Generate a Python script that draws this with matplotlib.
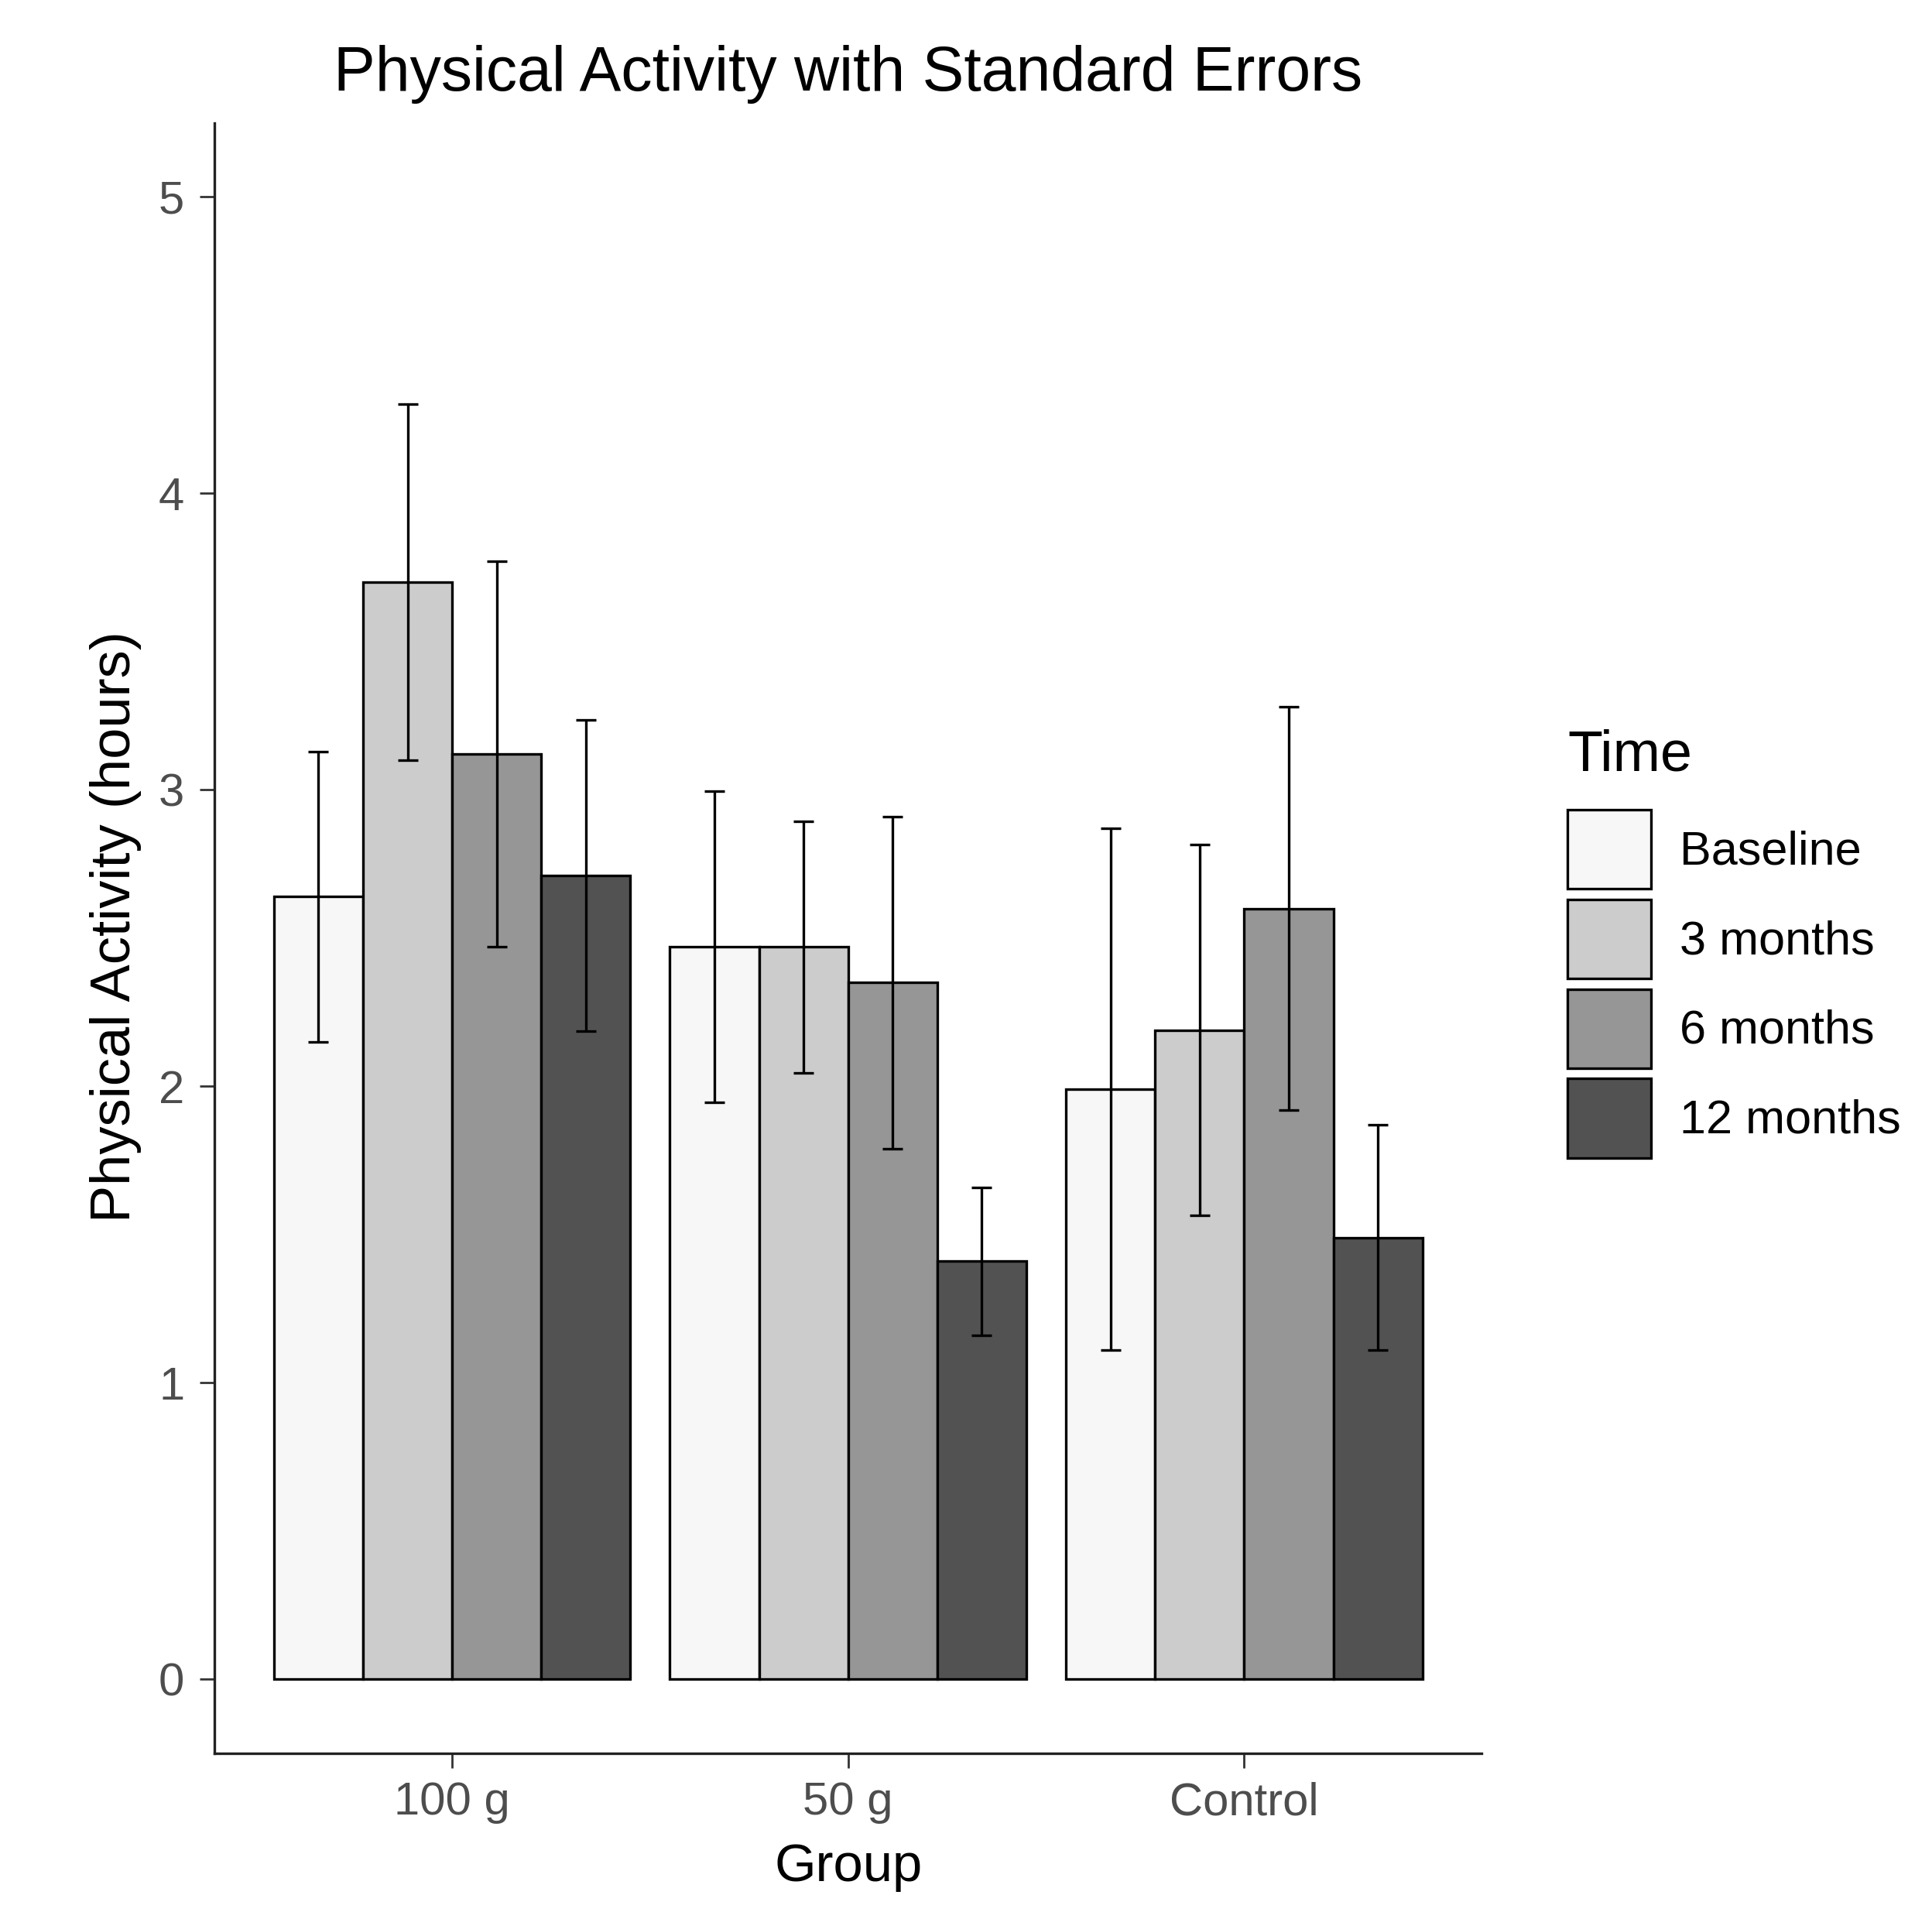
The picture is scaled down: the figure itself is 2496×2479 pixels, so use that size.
import numpy as np
import matplotlib.pyplot as plt

plt.rcParams['font.family'] = ['Liberation Sans', 'DejaVu Sans']

groups = ['100 g', '50 g', 'Control']
times = ['Baseline', '3 months', '6 months', '12 months']

# mean physical activity (hours) per time point, one value per group
baseline = [2.64, 2.47, 1.99]
months_3 = [3.70, 2.47, 2.19]
months_6 = [3.12, 2.35, 2.60]
months_12 = [2.71, 1.41, 1.49]

# standard errors
se_baseline = [0.49, 0.525, 0.88]
se_3 = [0.60, 0.425, 0.625]
se_6 = [0.65, 0.56, 0.68]
se_12 = [0.525, 0.25, 0.38]

fills = ['#F7F7F7', '#CCCCCC', '#969696', '#525252']

means = [baseline, months_3, months_6, months_12]
errors = [se_baseline, se_3, se_6, se_12]

fig = plt.figure(figsize=(12.48, 12.395), dpi=200)
ax = fig.add_axes([0.111, 0.0863, 0.656, 0.8497])

x = np.arange(1, len(groups) + 1)
width = 0.225
offsets = (np.arange(len(times)) - 1.5) * width

for i, t in enumerate(times):
    ax.bar(x + offsets[i], means[i], width=width, color=fills[i],
           edgecolor='black', linewidth=1.2, label=t, zorder=2)
    ax.errorbar(x + offsets[i], means[i], yerr=errors[i], fmt='none',
                ecolor='black', elinewidth=1.2, capsize=4.8, capthick=1.2,
                zorder=3)

ax.set_xlim(0.4, 3.6)
ax.set_ylim(-0.25, 5.25)
ax.set_xticks(x)
ax.set_xticklabels(groups)
ax.set_yticks([0, 1, 2, 3, 4, 5])

for side in ['top', 'right']:
    ax.spines[side].set_visible(False)
for side in ['left', 'bottom']:
    ax.spines[side].set_linewidth(1.2)
    ax.spines[side].set_color('#222222')

ax.tick_params(axis='both', length=7, width=1.0, color='#333333',
               labelcolor='#4D4D4D', labelsize=21.5)
ax.tick_params(axis='y', pad=7)
ax.tick_params(axis='x', pad=6)

ax.set_title('Physical Activity with Standard Errors', fontsize=29, pad=15)
ax.set_xlabel('Group', fontsize=24.8, va='center')
ax.set_ylabel('Physical Activity (hours)', fontsize=26, va='center')
ax.xaxis.set_label_coords(0.5, -0.0698)
ax.yaxis.set_label_coords(-0.078, 0.507)

# legend keys and labels, title placed separately (ggplot-like spacing)
leg = ax.legend(loc='upper left',
                bbox_to_anchor=(2025 / 2496, 1 - 1046 / 2479),
                bbox_transform=fig.transFigure, frameon=False,
                fontsize=22, borderpad=0,
                borderaxespad=0, handlelength=1.77, handleheight=2.2,
                labelspacing=0.22, handletextpad=0.6)
fig.text(2025 / 2496, 1 - 976 / 2479, 'Time', fontsize=26.5,
         ha='left', va='center')

plt.savefig('out.png')
plt.close()
